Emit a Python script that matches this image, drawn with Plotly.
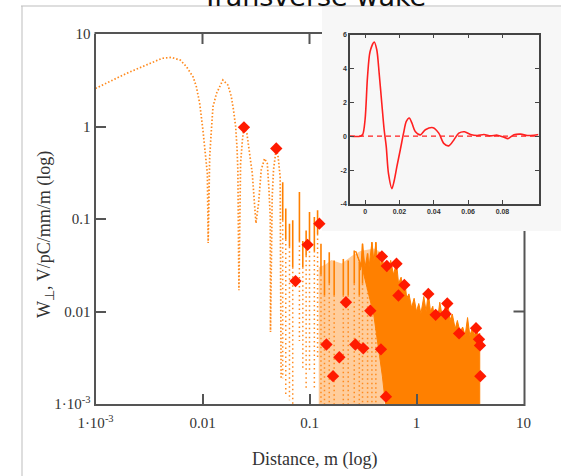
import math
import plotly.graph_objects as go

W, H = 561, 476

# ---------------- data ----------------
# smooth oscillating part of the wake (log-log main plot)
lobe_x = [0.0010, 0.00195, 0.00322, 0.0042, 0.0051, 0.0062, 0.00708, 0.00817, 0.00877,
          0.00942, 0.0101, 0.0107, 0.0111, 0.0113, 0.01167, 0.0121, 0.01253, 0.0135,
          0.0155, 0.0173, 0.0186, 0.0195, 0.0204, 0.0210, 0.0214, 0.0219, 0.0227,
          0.0236, 0.0244, 0.0260, 0.0275, 0.0292, 0.0306, 0.0316, 0.0334, 0.0354,
          0.0380, 0.0403, 0.0417, 0.0430, 0.0432, 0.0448, 0.0461, 0.0489, 0.0509,
          0.0532, 0.0543]
lobe_y = [2.58, 3.75, 4.8, 5.46, 5.59, 5.22, 4.43, 3.44, 2.68,
          1.77, 0.91, 0.51, 0.31, 0.055, 0.47, 0.91, 1.63, 2.27,
          3.18, 2.8, 2.1, 1.5, 1.0, 0.60, 0.34, 0.017, 0.40,
          0.71, 1.0, 0.84, 0.55, 0.31, 0.147, 0.09, 0.147, 0.34,
          0.45, 0.40, 0.22, 0.105, 0.006, 0.173, 0.34, 0.578, 0.47,
          0.284, 0.0019]

# spiky columns of the noisy tail
col_x   = [0.0562, 0.0600, 0.0650, 0.0697, 0.0805, 0.0866, 0.0930, 0.100, 0.111, 0.119,
           0.128, 0.138, 0.153, 0.170, 0.207, 0.230, 0.262, 0.292, 0.313, 0.349, 0.383, 0.417]
col_top = [0.25, 0.13, 0.089, 0.097, 0.196, 0.058, 0.075, 0.119, 0.105, 0.124,
           0.054, 0.036, 0.0438, 0.0357, 0.037, 0.0357, 0.0457, 0.0343, 0.054, 0.0423, 0.056, 0.056]
col_mid = [0.097, 0.06, 0.05, 0.030, 0.058, 0.030, 0.040, 0.050, 0.045, 0.069,
           0.025, 0.015, 0.020, 0.015, 0.015, 0.015, 0.020, 0.015, 0.020, 0.020, 0.020, 0.020]
col_low = [0.0019, 0.0012, 0.0011, 0.0010, 0.0048, 0.0024, 0.0015, 0.0022, 0.0015, 0.0030,
           0.0010, 0.0010, 0.0010, 0.0010, 0.0010, 0.0010, 0.0010, 0.0010, 0.0010, 0.0010, 0.0010, 0.0010]

# speckled (sparse dots) zone upper edge
speck_x = [0.122, 0.140, 0.160, 0.200, 0.250, 0.300, 0.400, 0.500]
speck_y = [0.030, 0.032, 0.036, 0.033, 0.040, 0.045, 0.048, 0.042]

# dense (solid) zone upper edge, left to right
dense_x = [0.27, 0.292, 0.30, 0.313, 0.33, 0.349, 0.36, 0.383, 0.40, 0.417, 0.43, 0.448,
           0.46, 0.475, 0.50, 0.528, 0.55, 0.574, 0.61, 0.65, 0.68, 0.718, 0.75, 0.778,
           0.81, 0.85, 0.90, 0.95, 1.00, 1.05, 1.10, 1.17, 1.23, 1.29, 1.35, 1.42, 1.48,
           1.53, 1.58, 1.65, 1.75, 1.94, 2.05, 2.16, 2.30, 2.41, 2.55, 2.70, 2.85, 3.00,
           3.15, 3.33, 3.50, 3.66, 3.78, 3.90]
dense_y = [0.045, 0.0343, 0.028, 0.054, 0.030, 0.0423, 0.030, 0.056, 0.035, 0.056, 0.035, 0.0438,
           0.030, 0.039, 0.028, 0.0328, 0.026, 0.0357, 0.025, 0.034, 0.020, 0.0235, 0.017, 0.0212,
           0.014, 0.0155, 0.011, 0.0139, 0.010, 0.0122, 0.0095, 0.0145, 0.010, 0.0163, 0.010, 0.0114, 0.008,
           0.0098, 0.0085, 0.0126, 0.0085, 0.0139, 0.008, 0.0094, 0.0065, 0.008, 0.006, 0.0068, 0.0055, 0.0086,
           0.0055, 0.0066, 0.0055, 0.0070, 0.0050, 0.0058]
# dense zone lower-left edge, bottom to top
dense_left_x = [3.90, 0.56, 0.48, 0.40, 0.31]
dense_left_y = [0.0004, 0.0004, 0.002, 0.009, 0.030]

# highlighted peaks (red diamonds)
peak_x = [0.0244, 0.0489, 0.074, 0.096, 0.1236, 0.144, 0.166, 0.19, 0.219, 0.268, 0.318,
          0.37, 0.465, 0.475, 0.518, 0.528, 0.65, 0.678, 0.77, 1.29, 1.51, 1.87, 1.94,
          2.5, 3.6, 3.84, 3.92, 3.95]
peak_y = [0.98, 0.578, 0.0213, 0.0526, 0.089, 0.0044, 0.0020, 0.0032, 0.0126, 0.0044, 0.0040,
          0.0102, 0.0039, 0.0394, 0.0012, 0.031, 0.0328, 0.0149, 0.0194, 0.0155, 0.0092, 0.0094, 0.0122,
          0.0058, 0.0066, 0.0050, 0.0043, 0.0020]

# inset: wake vs distance (linear)
inset_x = [-0.0088, -0.0029, -0.0014, 0.0, 0.0014, 0.0029, 0.0053, 0.0068, 0.0082, 0.0097,
           0.0111, 0.0123, 0.0136, 0.0156, 0.0170, 0.0185, 0.0205, 0.0224, 0.0240, 0.0257,
           0.0273, 0.0292, 0.0322, 0.0351, 0.0396, 0.0429, 0.0458, 0.0487, 0.0517, 0.0546,
           0.0579, 0.0614, 0.0653, 0.0692, 0.0731, 0.0770, 0.0809, 0.0832, 0.0867, 0.0906,
           0.0945, 0.0984, 0.1010]
inset_w = [0.0, 0.0, 0.1, 1.0, 3.5, 5.0, 5.56, 5.1, 3.7, 1.96,
           0.38, -0.6, -2.2, -3.09, -2.6, -1.8, -0.8, 0.18, 0.87, 1.07,
           0.77, 0.28, 0.08, 0.38, 0.5, 0.18, -0.42, -0.57, -0.22, 0.18,
           0.26, 0.10, 0.04, 0.10, 0.02, 0.06, -0.06, -0.14, 0.08, 0.12,
           0.04, 0.06, 0.10]
ref_x = [-0.0088, 0.101]
ref_w = [0.0, 0.0]

x_tickvals = [1e-3, 1e-2, 1e-1, 1, 10]
x_ticktext = ["1·10<sup>-3</sup>", "0.01", "0.1", "1", "10"]
y_tickvals = [1e-3, 1e-2, 1e-1, 1, 10]
y_ticktext = ["1·10<sup>-3</sup>", "0.01", "0.1", "1", "10"]
inset_xticks = [0, 0.02, 0.04, 0.06, 0.08]
inset_xtext = ["0", "0.02", "0.04", "0.06", "0.08"]
inset_yticks = [-4, -2, 0, 2, 4, 6]
inset_ytext = ["-4", "-2", "0", "2", "4", "6"]

# ---------------- layout geometry (pixels) ----------------
X0, X1 = 95.5, 523.5      # main plot left/right
YT, YB = 34.0, 404.0      # main plot top/bottom
IX0, IX1 = 350.0, 538.5   # inset
IYT, IYB = 34.5, 204.0
COVER_X, COVER_YB = 322.0, 231.0


def px(x):
    return x / W


def py(y):
    return 1 - y / H


def main_xpix(v):
    return X0 + (math.log10(v) + 3) / 4 * (X1 - X0)


def main_ypix(v):
    return YB - (math.log10(v) + 3) / 4 * (YB - YT)


ORANGE = "#ff8000"
DOT_ORANGE = "#ff8a1e"
FLOOR = 0.0004

fig = go.Figure()

# speckled zone
fig.add_trace(go.Scatter(
    x=[speck_x[0]] + speck_x + [speck_x[-1]],
    y=[FLOOR] + speck_y + [FLOOR],
    fill="toself", fillcolor="rgba(255,135,20,0.42)", mode="lines",
    line=dict(width=0), hoverinfo="skip", xaxis="x", yaxis="y"))

# dotted columns
cx, cy, sx, sy = [], [], [], []
for x, t, m, lo in zip(col_x, col_top, col_mid, col_low):
    cx += [x, x, None]
    cy += [m, lo, None]
    sx += [x, x, None]
    sy += [t, m, None]
fig.add_trace(go.Scatter(x=cx, y=cy, mode="lines",
                         line=dict(color=DOT_ORANGE, width=1.5, dash="1.5px,3px"),
                         hoverinfo="skip"))
fig.add_trace(go.Scatter(x=sx, y=sy, mode="lines",
                         line=dict(color=ORANGE, width=1.6),
                         hoverinfo="skip"))

# smooth lobes
fig.add_trace(go.Scatter(x=lobe_x, y=lobe_y, mode="lines",
                         line=dict(color=DOT_ORANGE, width=1.7, dash="1.5px,2px"),
                         hoverinfo="skip"))

# dense zone
fig.add_trace(go.Scatter(
    x=dense_x + dense_left_x + [dense_x[0]],
    y=dense_y + dense_left_y + [dense_y[0]],
    fill="toself", fillcolor=ORANGE, mode="lines",
    line=dict(color=ORANGE, width=1), hoverinfo="skip"))

# red diamonds
fig.add_trace(go.Scatter(x=peak_x, y=peak_y, mode="markers",
                         marker=dict(symbol="diamond", size=9.5, color="#ff1a00",
                                     line=dict(width=0)),
                         hoverinfo="skip"))

# inset
fig.add_trace(go.Scatter(x=ref_x, y=ref_w, mode="lines", xaxis="x2", yaxis="y2",
                         line=dict(color="#ff2020", width=1.3, dash="5px,4px"),
                         hoverinfo="skip"))
fig.add_trace(go.Scatter(x=inset_x, y=inset_w, mode="lines", xaxis="x2", yaxis="y2",
                         line=dict(color="#ff2020", width=1.6, shape="spline", smoothing=0.8),
                         hoverinfo="skip"))

AX = "#555555"
tick_font = dict(family="Liberation Serif, Times New Roman, serif", size=15, color="#333333")

shapes = [
    # pasted inset background
    dict(type="rect", xref="paper", yref="paper", x0=px(COVER_X), x1=1.0,
         y0=py(COVER_YB), y1=py(7), fillcolor="#f7f7f7", line=dict(width=0), layer="below"),
    # slide frame
    dict(type="line", xref="paper", yref="paper", x0=px(21), x1=1.0, y0=py(6), y1=py(6),
         line=dict(color="#bdbdbd", width=1)),
    dict(type="line", xref="paper", yref="paper", x0=px(22), x1=px(22), y0=py(6), y1=0,
         line=dict(color="#bdbdbd", width=1)),
    # partial top & right frame of main plot
    dict(type="line", xref="paper", yref="paper", x0=px(X0 - 1), x1=px(COVER_X), y0=py(YT - 1), y1=py(YT - 1),
         line=dict(color=AX, width=2)),
    dict(type="line", xref="paper", yref="paper", x0=px(X1 + 1), x1=px(X1 + 1), y0=py(COVER_YB), y1=py(YB + 2),
         line=dict(color=AX, width=2)),
]
for v in [1e-2, 1e-1]:
    xp = main_xpix(v)
    shapes.append(dict(type="line", xref="paper", yref="paper", x0=px(xp), x1=px(xp),
                       y0=py(YT - 1), y1=py(YT + 10), line=dict(color=AX, width=2)))
yp = main_ypix(1e-2)
shapes.append(dict(type="line", xref="paper", yref="paper", x0=px(X1 - 10), x1=px(X1 + 1),
                   y0=py(yp), y1=py(yp), line=dict(color=AX, width=2)))

serif = "Liberation Serif, Times New Roman, serif"
annotations = [
    dict(text="Transverse wake", xref="paper", yref="paper", x=px(313), y=py(-4),
         xanchor="center", yanchor="middle", showarrow=False,
         font=dict(family="DejaVu Sans, sans-serif", size=27, color="#111111")),
    dict(text="Distance, m (log)", xref="paper", yref="paper", x=px(314), y=py(459),
         xanchor="center", yanchor="middle", showarrow=False,
         font=dict(family=serif, size=18, color="#333333")),
    dict(text="W<sub>⊥</sub>, V/pC/mm/m (log)", xref="paper", yref="paper", x=px(45), y=py(235),
         xanchor="center", yanchor="middle", showarrow=False, textangle=-90,
         font=dict(family=serif, size=18, color="#333333")),
]

fig.update_layout(
    width=W, height=H, margin=dict(l=0, r=0, t=0, b=0, autoexpand=False),
    paper_bgcolor="white", plot_bgcolor="rgba(0,0,0,0)",
    showlegend=False,
    xaxis=dict(type="log", range=[-3, 1], domain=[px(X0), px(X1)], anchor="y",
               showline=True, linecolor=AX, linewidth=2, mirror=False,
               ticks="inside", ticklen=10, tickwidth=2, tickcolor=AX,
               tickvals=x_tickvals, ticktext=x_ticktext, tickfont=tick_font,
               ticklabelstandoff=4, showgrid=False, zeroline=False, automargin=False),
    yaxis=dict(type="log", range=[-3, 1], domain=[py(YB), py(YT)], anchor="x",
               showline=True, linecolor=AX, linewidth=2, mirror=False,
               ticks="inside", ticklen=10, tickwidth=2, tickcolor=AX,
               tickvals=y_tickvals, ticktext=y_ticktext, tickfont=tick_font,
               showgrid=False, zeroline=False, automargin=False),
    xaxis2=dict(range=[-0.0088, 0.101], domain=[px(IX0), px(IX1)], anchor="y2",
                showline=True, linecolor="#444444", linewidth=1.5, mirror="ticks",
                ticks="inside", ticklen=4, tickwidth=1.2, tickcolor="#444444",
                tickvals=inset_xticks, ticktext=inset_xtext,
                tickfont=dict(family="Liberation Sans, Arial, sans-serif", size=7, color="#333333", weight="bold"),
                showgrid=False, zeroline=False, automargin=False),
    yaxis2=dict(range=[-4, 6], domain=[py(IYB), py(IYT)], anchor="x2",
                showline=True, linecolor="#444444", linewidth=1.5, mirror="ticks",
                ticks="inside", ticklen=4, tickwidth=1.2, tickcolor="#444444",
                tickvals=inset_yticks, ticktext=inset_ytext,
                tickfont=dict(family="Liberation Sans, Arial, sans-serif", size=7, color="#333333", weight="bold"),
                showgrid=False, zeroline=False, automargin=False),
    shapes=shapes,
    annotations=annotations,
)

fig.write_html(
    "out.html",
    config={"displayModeBar": False},
    post_script="document.body.style.margin='0';document.body.style.padding='0';"
                "document.body.style.overflow='hidden';",
)
